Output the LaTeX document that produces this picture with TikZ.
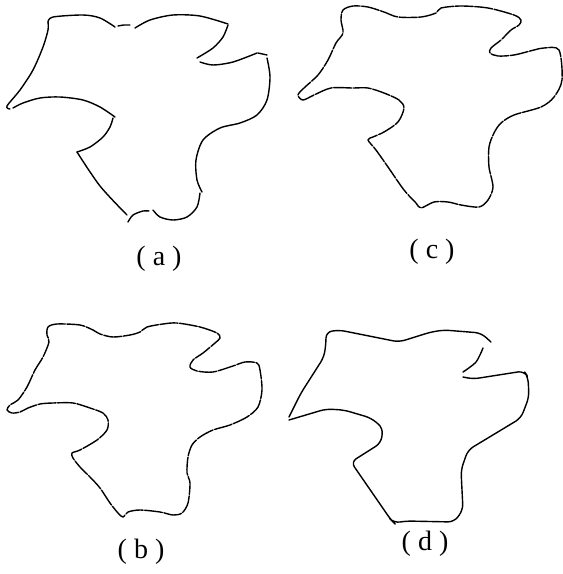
\documentclass[tikz,border=0pt]{standalone}
\usepackage{fontspec}
\setmainfont{Liberation Serif}
\begin{document}
\begin{tikzpicture}[x=0.5pt, y=-0.5pt,
    outline/.style={line width=0.7pt, line cap=round, line join=round},
    noisy/.style={outline, dash pattern=on 9pt off 0.8pt},
    caption/.style={font=\fontsize{14}{16}\selectfont, inner sep=0pt}]
    \useasboundingbox (0,0) rectangle (563,574);
    % (a)
    \draw[outline] plot[smooth] coordinates {(48,22) (53,17) (83,15) (100,18) (115,27)};
    \draw[outline] plot[smooth] coordinates {(118,26) (124,25) (130,25)};
    \draw[outline] plot[smooth] coordinates {(135,28) (150,20) (173,15) (200,16) (228,24)};
    \draw[outline] plot[smooth] coordinates {(228,25) (223,37) (213,48) (197,58)};
    \draw[outline] plot[smooth] coordinates {(200,62) (213,65) (233,62) (257,53)};
    \draw[outline] (258,53) -- (267,55);
    \draw[outline] plot[smooth] coordinates {(267,58) (270,77) (267,100) (257,115) (240,123) (220,128) (203,140) (196,160) (197,180) (202,192)};
    \draw[outline] plot[smooth] coordinates {(200,193) (197,207) (187,217) (173,220) (160,217) (153,210)};
    \draw[outline] plot[smooth] coordinates {(149,211) (143,211) (133,215) (128,222)};
    \draw[outline] plot[smooth] coordinates {(127,215) (100,186) (77,152)};
    \draw[outline] plot[smooth] coordinates {(77,152) (90,147) (103,137) (110,127) (113,118)};
    \draw[outline] plot[smooth] coordinates {(115,117) (100,107) (83,100) (60,97) (40,98) (23,103) (13,108)};
    \draw[outline] plot[smooth] coordinates {(10,109) (7,106) (20,90) (33,70) (43,47) (48,30) (48,22)};
    % (c)
    \draw[noisy] plot[smooth cycle] coordinates {(341,20) (343,10) (353,6) (368,7) (384,12) (398,17) (421,17) (436,13) (441,8) (461,6) (488,8) (514,15) (521,20) (519,25) (511,30) (501,40) (491,48) (490,53) (498,56) (514,55) (534,50) (544,48) (559,50) (562,80) (554,97) (541,107) (514,115) (501,123) (494,133) (489,147) (489,167) (493,187) (488,200) (479,207) (461,205) (448,202) (434,202) (421,208) (416,203) (404,190) (388,167) (376,150) (368,140) (373,137) (384,132) (398,122) (404,108) (399,100) (384,93) (368,88) (353,88) (331,88) (314,95) (303,100) (298,95) (304,88) (318,75) (328,60) (336,43) (343,33)};
    % (b)
    \draw[noisy] plot[smooth cycle] coordinates {(47,335) (48,327) (57,324) (80,325) (93,330) (100,334) (113,337) (130,335) (140,332) (147,327) (163,324) (177,323) (200,327) (217,333) (220,338) (215,343) (203,353) (193,360) (190,367) (197,371) (213,372) (233,366) (245,362) (257,363) (260,370) (262,390) (258,407) (247,417) (230,425) (213,430) (200,437) (192,445) (188,457) (187,473) (190,483) (188,503) (182,513) (173,515) (160,512) (140,510) (128,512) (123,517) (118,513) (110,503) (100,488) (90,477) (80,467) (73,458) (72,453) (80,450) (97,440) (107,430) (108,420) (103,413) (90,408) (73,403) (53,403) (40,404) (28,408) (20,412) (12,413) (7,410) (10,405) (18,400) (27,387) (35,370) (43,357) (49,342)};
    % (d)
    \draw[outline, rounded corners=3pt] (289,417) -- (301,393) -- (324,357) -- (326,343) -- (326,332) -- (339,330) -- (399,342) -- (431,332) -- (444,330) -- (481,333) -- (491,342);
    \draw[outline] plot[smooth] coordinates {(483,348) (476,362) (463,372)};
    \draw[outline, rounded corners=3pt] (463,377) -- (473,379) -- (524,371) -- (528,377) -- (529,397) -- (521,418) -- (468,450) -- (461,470) -- (463,510) -- (454,522) -- (406,521) -- (394,523) -- (391,520) -- (351,462) -- (381,443) -- (383,428) -- (371,418) -- (344,410) -- (326,409) -- (289,420);
    \node[caption] (la) at (159,259) {( a )};
    \node[caption] (lc) at (432,252) {( c )};
    \node[caption] (lb) at (141,552) {( b )};
    \node[caption] (ld) at (425,544) {( d )};
\end{tikzpicture}
\end{document}
